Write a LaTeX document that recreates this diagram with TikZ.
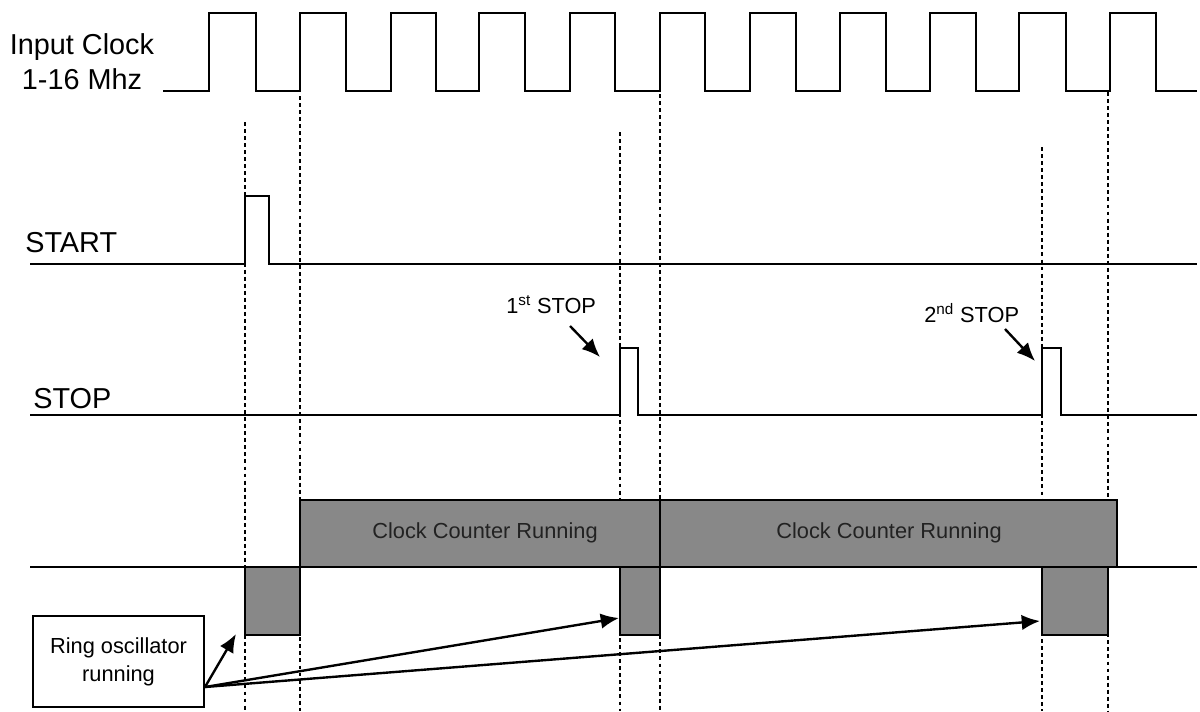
\documentclass[tikz,border=0pt]{standalone}
\usepackage{fontspec}
\setmainfont{Liberation Sans}
\usetikzlibrary{arrows.meta}
\definecolor{boxgray}{HTML}{888888}
\definecolor{txtdark}{HTML}{222222}
\begin{document}
\begin{tikzpicture}[x=0.025cm,y=-0.025cm,
  wave/.style={line width=1.9pt,line join=miter},
  guide/.style={line width=1.6pt,dash pattern=on 2.8pt off 2.2pt},
  biglabel/.style={font=\fontsize{20.5}{24}\selectfont,inner sep=0pt},
  smalllabel/.style={font=\fontsize{15.5}{18}\selectfont,inner sep=0pt},
  grayblock/.style={fill=boxgray,draw=black,line width=1.8pt},
  pointer/.style={line width=1.7pt,-{Latex[length=13pt,width=11pt]}},
  ringbox/.style={draw,line width=1.6pt,minimum width=171*0.025cm,minimum height=91*0.025cm,
    align=center,font=\fontsize{15.5}{18}\selectfont,inner sep=0pt}]
\useasboundingbox (0,0) rectangle (1200,711);
% guide lines
\draw[guide] (245,122) -- (245,711);
\draw[guide] (300,96) -- (300,711);
\draw[guide] (620,132) -- (620,711);
\draw[guide] (660,94) -- (660,711);
\draw[guide] (1042,147) -- (1042,711);
\draw[guide] (1108,92) -- (1108,711);
% input clock
\node[biglabel,anchor=base] (inlab) at (82,54) {Input Clock};
\node[biglabel,anchor=base] (inlab2) at (82,89) {1-16 Mhz};
\draw[wave] (163,91)
  \foreach \r/\f in {209/256,300/346,391/436,479/525,570/615,660/705,750/796,840/886,930/976,1019/1066,1110/1156}
  { -- (\r,91) -- (\r,13) -- (\f,13) -- (\f,91) } -- (1197,91);
% START
\node[biglabel,anchor=base west] (startlab) at (25,252) {START};
\draw[wave] (30,264) -- (245,264) -- (245,196) -- (269,196) -- (269,264) -- (1197,264);
% STOP
\node[biglabel,anchor=base west] (stoplab) at (33,408) {STOP};
\draw[wave] (30,415) -- (620,415) -- (620,348) -- (638,348) -- (638,415)
  -- (1042,415) -- (1042,348) -- (1061,348) -- (1061,415) -- (1197,415);
\node[smalllabel,anchor=base west] (s1) at (506,313) {1\textsuperscript{st} STOP};
\node[smalllabel,anchor=base west] (s2) at (924,322) {2\textsuperscript{nd} STOP};
\coordinate (s1a) at (570,326);
\coordinate (s1b) at (600,357);
\coordinate (s2a) at (1005,329);
\coordinate (s2b) at (1035,361);
\draw[pointer] (s1a) -- (s1b);
\draw[pointer] (s2a) -- (s2b);
% counter blocks
\draw[grayblock] (300,500) rectangle (660,567);
\draw[grayblock] (660,500) rectangle (1117,567);
\node[smalllabel,text=txtdark] (c1) at (485,533) {Clock Counter Running};
\node[smalllabel,text=txtdark] (c2) at (889,533) {Clock Counter Running};
% ring oscillator blocks
\draw[grayblock] (245,567) rectangle (300,635);
\draw[grayblock] (620,567) rectangle (660,635);
\draw[grayblock] (1042,567) rectangle (1108,635);
\draw[wave] (30,567) -- (1197,567);
% ring oscillator label
\node[ringbox] (ring) at (118.5,661.5) {Ring oscillator\\[2pt]running};
\coordinate (src) at (205,687);
\coordinate (t1) at (236,634);
\coordinate (t2) at (619,618);
\coordinate (t3) at (1040,621);
\draw[pointer] (src) -- (t1);
\draw[pointer] (src) -- (t2);
\draw[pointer] (src) -- (t3);
\end{tikzpicture}
\end{document}
